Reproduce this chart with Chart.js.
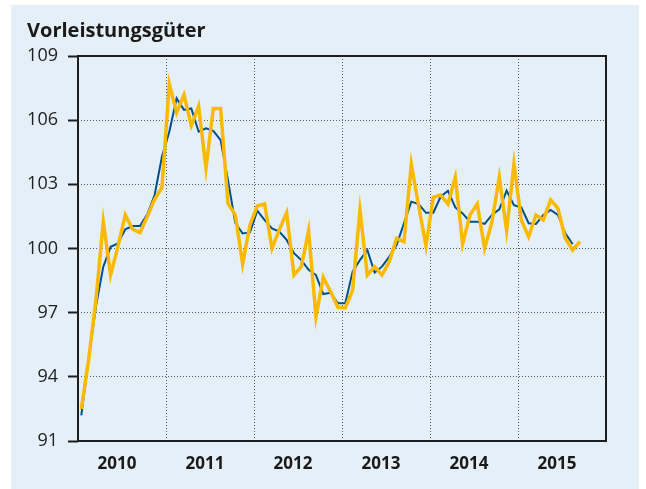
<!DOCTYPE html>
<html>
<head>
<meta charset="utf-8">
<script src="https://cdn.jsdelivr.net/npm/chart.js@4.4.0/dist/chart.umd.min.js"></script>
<style>
  html, body { margin: 0; padding: 0; background: #fff; }
</style>
</head>
<body>
<canvas id="chart" width="646" height="489"></canvas>
<script>
// chart text
const chartTitle = 'Vorleistungsgüter';
const yearLabels = ['2010', '2011', '2012', '2013', '2014', '2015'];
const yTicks = [91, 94, 97, 100, 103, 106, 109];

// monthly values, Jan 2010 - Sep 2015 (yellow)
const monthlyValues = [
  92.5, 94.8, 97.6, 101.25, 98.76, 100.1, 101.57, 100.9, 100.74, 101.5, 102.3, 102.85,
  107.7, 106.35, 107.18, 105.75, 106.66, 103.75, 106.55, 106.55, 102.11, 101.57, 99.28, 101.1,
  101.99, 102.08, 100.0, 100.87, 101.67, 98.76, 99.15, 100.83, 96.81, 98.65, 97.98, 97.25,
  97.22, 98.06, 101.77, 98.76, 99.15, 98.76, 99.38, 100.47, 100.32, 103.95, 102.0, 100.12,
  102.39, 102.5, 102.08, 103.33, 100.21, 101.57, 102.08, 100.0, 101.25, 103.33, 100.83, 103.95,
  101.33, 100.55, 101.57, 101.33, 102.27, 101.88, 100.48, 99.93, 100.32
];

// smoothed values, Jan 2010 - Aug 2015 (blue)
const trendValues = [
  92.2, 94.8, 97.3, 99.15, 100.08, 100.24, 100.9, 101.05, 101.05, 101.6, 102.5, 104.3,
  105.46, 107.02, 106.48, 106.55, 105.46, 105.62, 105.5, 105.07, 103.2, 101.2, 100.7, 100.75,
  101.77, 101.33, 100.94, 100.79, 100.4, 99.78, 99.46, 99.0, 98.76, 97.87, 97.93, 97.44,
  97.44, 98.92, 99.46, 99.93, 98.87, 99.15, 99.62, 100.16, 101.18, 102.19, 102.08, 101.67,
  101.67, 102.42, 102.7, 101.92, 101.64, 101.25, 101.25, 101.15, 101.57, 101.83, 102.7, 102.03,
  101.92, 101.18, 101.15, 101.57, 101.8, 101.57, 100.71, 100.21
];

const toPoints = (arr) => arr.map((v, i) => ({ x: i + 0.45, y: v }));
const yearStarts = [0, 12, 24, 36, 48, 60, 72];

// background panel, frame and heading
const decor = {
  id: 'decor',
  beforeDraw(chart) {
    const c = chart.ctx;
    c.save();
    c.fillStyle = '#fff';
    c.fillRect(0, 0, chart.width, chart.height);
    c.fillStyle = '#e5eff7';
    c.fillRect(11, 5, 628, 484);
    c.restore();
  },
  beforeDatasetsDraw(chart) {
    const { left, top, right, bottom } = chart.chartArea;
    const c = chart.ctx;
    c.save();
    c.strokeStyle = '#1e1e1e';
    c.lineWidth = 2;
    c.strokeRect(left, top, right - left, bottom - top);
    c.restore();
  },
  afterDraw(chart) {
    const c = chart.ctx;
    c.save();
    c.fillStyle = '#1a1a1a';
    c.font = 'bold 20px "Open Sans"';
    c.textBaseline = 'alphabetic';
    c.fillText(chartTitle, 27, 36.5);
    c.restore();
  }
};

new Chart(document.getElementById('chart'), {
  type: 'line',
  data: {
    datasets: [
      {
        data: toPoints(monthlyValues),
        borderColor: '#fbb900',
        borderWidth: 3.5,
        pointRadius: 0,
        tension: 0
      },
      {
        data: toPoints(trendValues),
        borderColor: '#00508e',
        borderWidth: 2,
        pointRadius: 0,
        tension: 0
      }
    ]
  },
  options: {
    responsive: false,
    animation: false,
    devicePixelRatio: 1,
    layout: { padding: { left: 0, top: 56, right: 40, bottom: 0 } },
    plugins: {
      legend: { display: false },
      tooltip: { enabled: false }
    },
    scales: {
      x: {
        type: 'linear',
        min: 0,
        max: 72,
        afterBuildTicks: (s) => { s.ticks = yearStarts.map(v => ({ value: v })); },
        afterFit: (s) => { s.height = 48; },
        grid: { color: '#5a5a5a', lineWidth: 1, drawTicks: false },
        border: { display: false, dash: [1, 2] },
        ticks: {
          autoSkip: false,
          maxRotation: 0,
          labelOffset: 39,
          padding: 13,
          color: '#1a1a1a',
          font: { family: 'Open Sans', size: 17, weight: 'bold' },
          callback: (v, i) => yearLabels[i] || ''
        }
      },
      y: {
        min: 91,
        max: 109,
        afterBuildTicks: (s) => { s.ticks = yTicks.map(v => ({ value: v })); },
        afterFit: (s) => { s.width = 78; },
        grid: {
          color: '#5a5a5a',
          lineWidth: 1,
          drawTicks: true,
          tickLength: 10,
          tickColor: '#1e1e1e',
          tickWidth: 2,
          tickBorderDash: []
        },
        border: { display: false, dash: [1, 2] },
        ticks: {
          padding: 10,
          color: '#222',
          font: { family: 'Open Sans', size: 18 }
        }
      }
    }
  },
  plugins: [decor]
});
</script>
</body>
</html>
